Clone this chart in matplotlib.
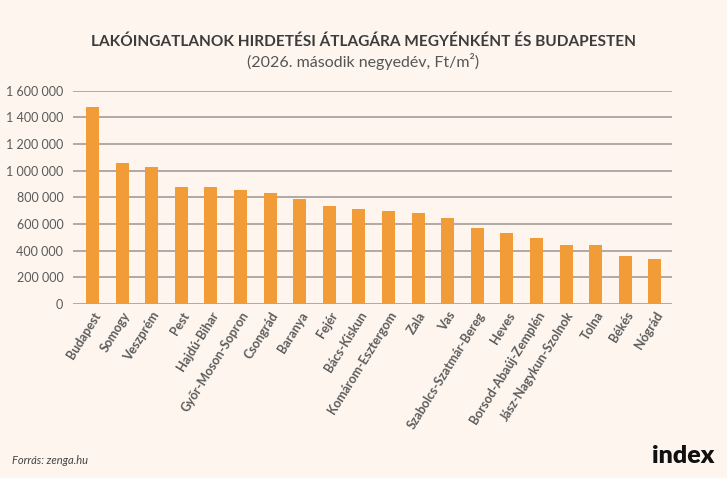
import matplotlib.pyplot as plt
import matplotlib.ticker as mticker

# megyek es Budapest, Ft/m2
megyek = ['Budapest', 'Somogy', 'Veszprém', 'Pest', 'Hajdú-Bihar', 'Győr-Moson-Sopron',
          'Csongrád', 'Baranya', 'Fejér', 'Bács-Kiskun', 'Komárom-Esztergom', 'Zala',
          'Vas', 'Szabolcs-Szatmár-Bereg', 'Heves', 'Borsod-Abaúj-Zemplén',
          'Jász-Nagykun-Szolnok', 'Tolna', 'Békés', 'Nógrád']
arak = [1482000, 1056000, 1030000, 879000, 877000, 853000,
        834000, 791000, 739000, 711000, 699000, 686000,
        646000, 571000, 533000, 493000,
        446000, 445000, 363000, 338000]
yticks = [0, 200000, 400000, 600000, 800000, 1000000, 1200000, 1400000, 1600000]

bg = '#fdf5ee'
narancs = '#f29c38'
szurke = '#5a5a5a'

plt.rcParams['font.family'] = ['Lato', 'DejaVu Sans']

fig = plt.figure(figsize=(7.27, 4.78), dpi=100, facecolor=bg)
ax = fig.add_axes([0.1004, 0.364, 0.8236, 0.446])
ax.set_facecolor(bg)

x = range(len(megyek))
ax.bar(x, arak, width=0.44, color=narancs, zorder=3)

ax.set_ylim(0, 1600000)
ax.set_xlim(-0.66, len(megyek) - 1 + 0.57)
ax.set_yticks(yticks)
ax.yaxis.set_major_formatter(mticker.FuncFormatter(lambda v, p: '{:,.0f}'.format(v).replace(',', ' ')))
ax.grid(axis='y', color='#a9a39f', linewidth=1.3, zorder=0)
ax.set_xticks(list(x))
ax.set_xticklabels(megyek, rotation=58, ha='right', rotation_mode='anchor',
                   fontsize=9, fontweight='bold', color='#5c5c5c')
ax.tick_params(axis='y', length=0, labelsize=9, labelcolor=szurke, pad=7)
ax.tick_params(axis='x', length=0, pad=4)
for s in ax.spines.values():
    s.set_visible(False)

fig.text(0.5, 0.913, 'LAKÓINGATLANOK HIRDETÉSI ÁTLAGÁRA MEGYÉNKÉNT ÉS BUDAPESTEN',
         ha='center', va='center', fontsize=11.1, fontweight='bold', color='#3c3c3c')
fig.text(0.5, 0.871, '(2026. második negyedév, Ft/m²)',
         ha='center', va='center', fontsize=11.5, color='#555555')

fig.text(0.016, 0.037, 'Forrás: zenga.hu', ha='left', va='center',
         fontsize=8, style='italic', color='#444444')
fig.text(0.982, 0.047, 'index', ha='right', va='center',
         fontsize=18, fontweight='heavy', color='#111111')

plt.savefig('out.png', dpi=100, facecolor=bg)
